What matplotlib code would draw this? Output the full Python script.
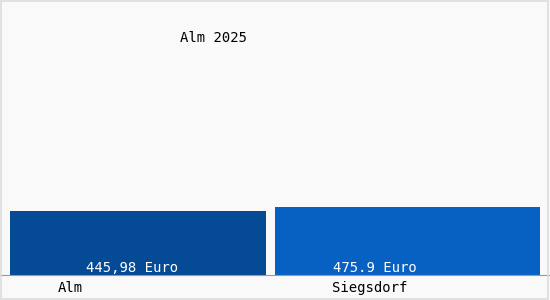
import matplotlib.pyplot as plt

# Data
categories = ["Alm", "Siegsdorf"]
values = [445.98, 475.9]
value_labels = ["445,98 Euro", "475.9 Euro"]
title = "Alm 2025"

bar_colors = ["#054a94", "#0761c3"]
bg = "#f9f9f9"
font = "DejaVu Sans Mono"
fs = 10

fig = plt.figure(figsize=(5.5, 3), dpi=100, facecolor=bg)
ax = fig.add_axes([0, 25 / 300, 1, 275 / 300])
ax.set_facecolor(bg)

x = list(range(len(categories)))
ax.bar(x, values, width=[0.95, 0.983], color=bar_colors)
ax.set_xlim(-0.512, 1.529)
ax.set_ylim(0, 1920)

# value labels sit near the foot of each bar, a bit left of centre
label_x = [132 / 550, 375 / 550]
for lx, lab in zip(label_x, value_labels):
    fig.text(lx, 1 - 268 / 300, lab, ha="center", va="center", color="white",
             fontsize=fs, family=font)

for s in ax.spines.values():
    s.set_visible(False)
ax.spines["bottom"].set_visible(True)
ax.spines["bottom"].set_color("#999999")
ax.spines["bottom"].set_linewidth(0.8)
ax.set_xticks([])
ax.set_yticks([])

# category labels under the axis
cat_x = [70 / 550, 370 / 550]
for cx, cat in zip(cat_x, categories):
    fig.text(cx, 1 - 288 / 300, cat, ha="center", va="center",
             fontsize=fs, family=font, color="black")

fig.text(214 / 550, 1 - 38 / 300, title, ha="center", va="center",
         fontsize=fs, family=font, color="black")

# light frame around the whole picture
fig.patches.append(plt.Rectangle((0.002, 0.003), 0.995, 0.993, transform=fig.transFigure,
                                 fill=False, edgecolor="#dddddd", linewidth=1.2))

plt.savefig("out.png", dpi=100, facecolor=bg)
